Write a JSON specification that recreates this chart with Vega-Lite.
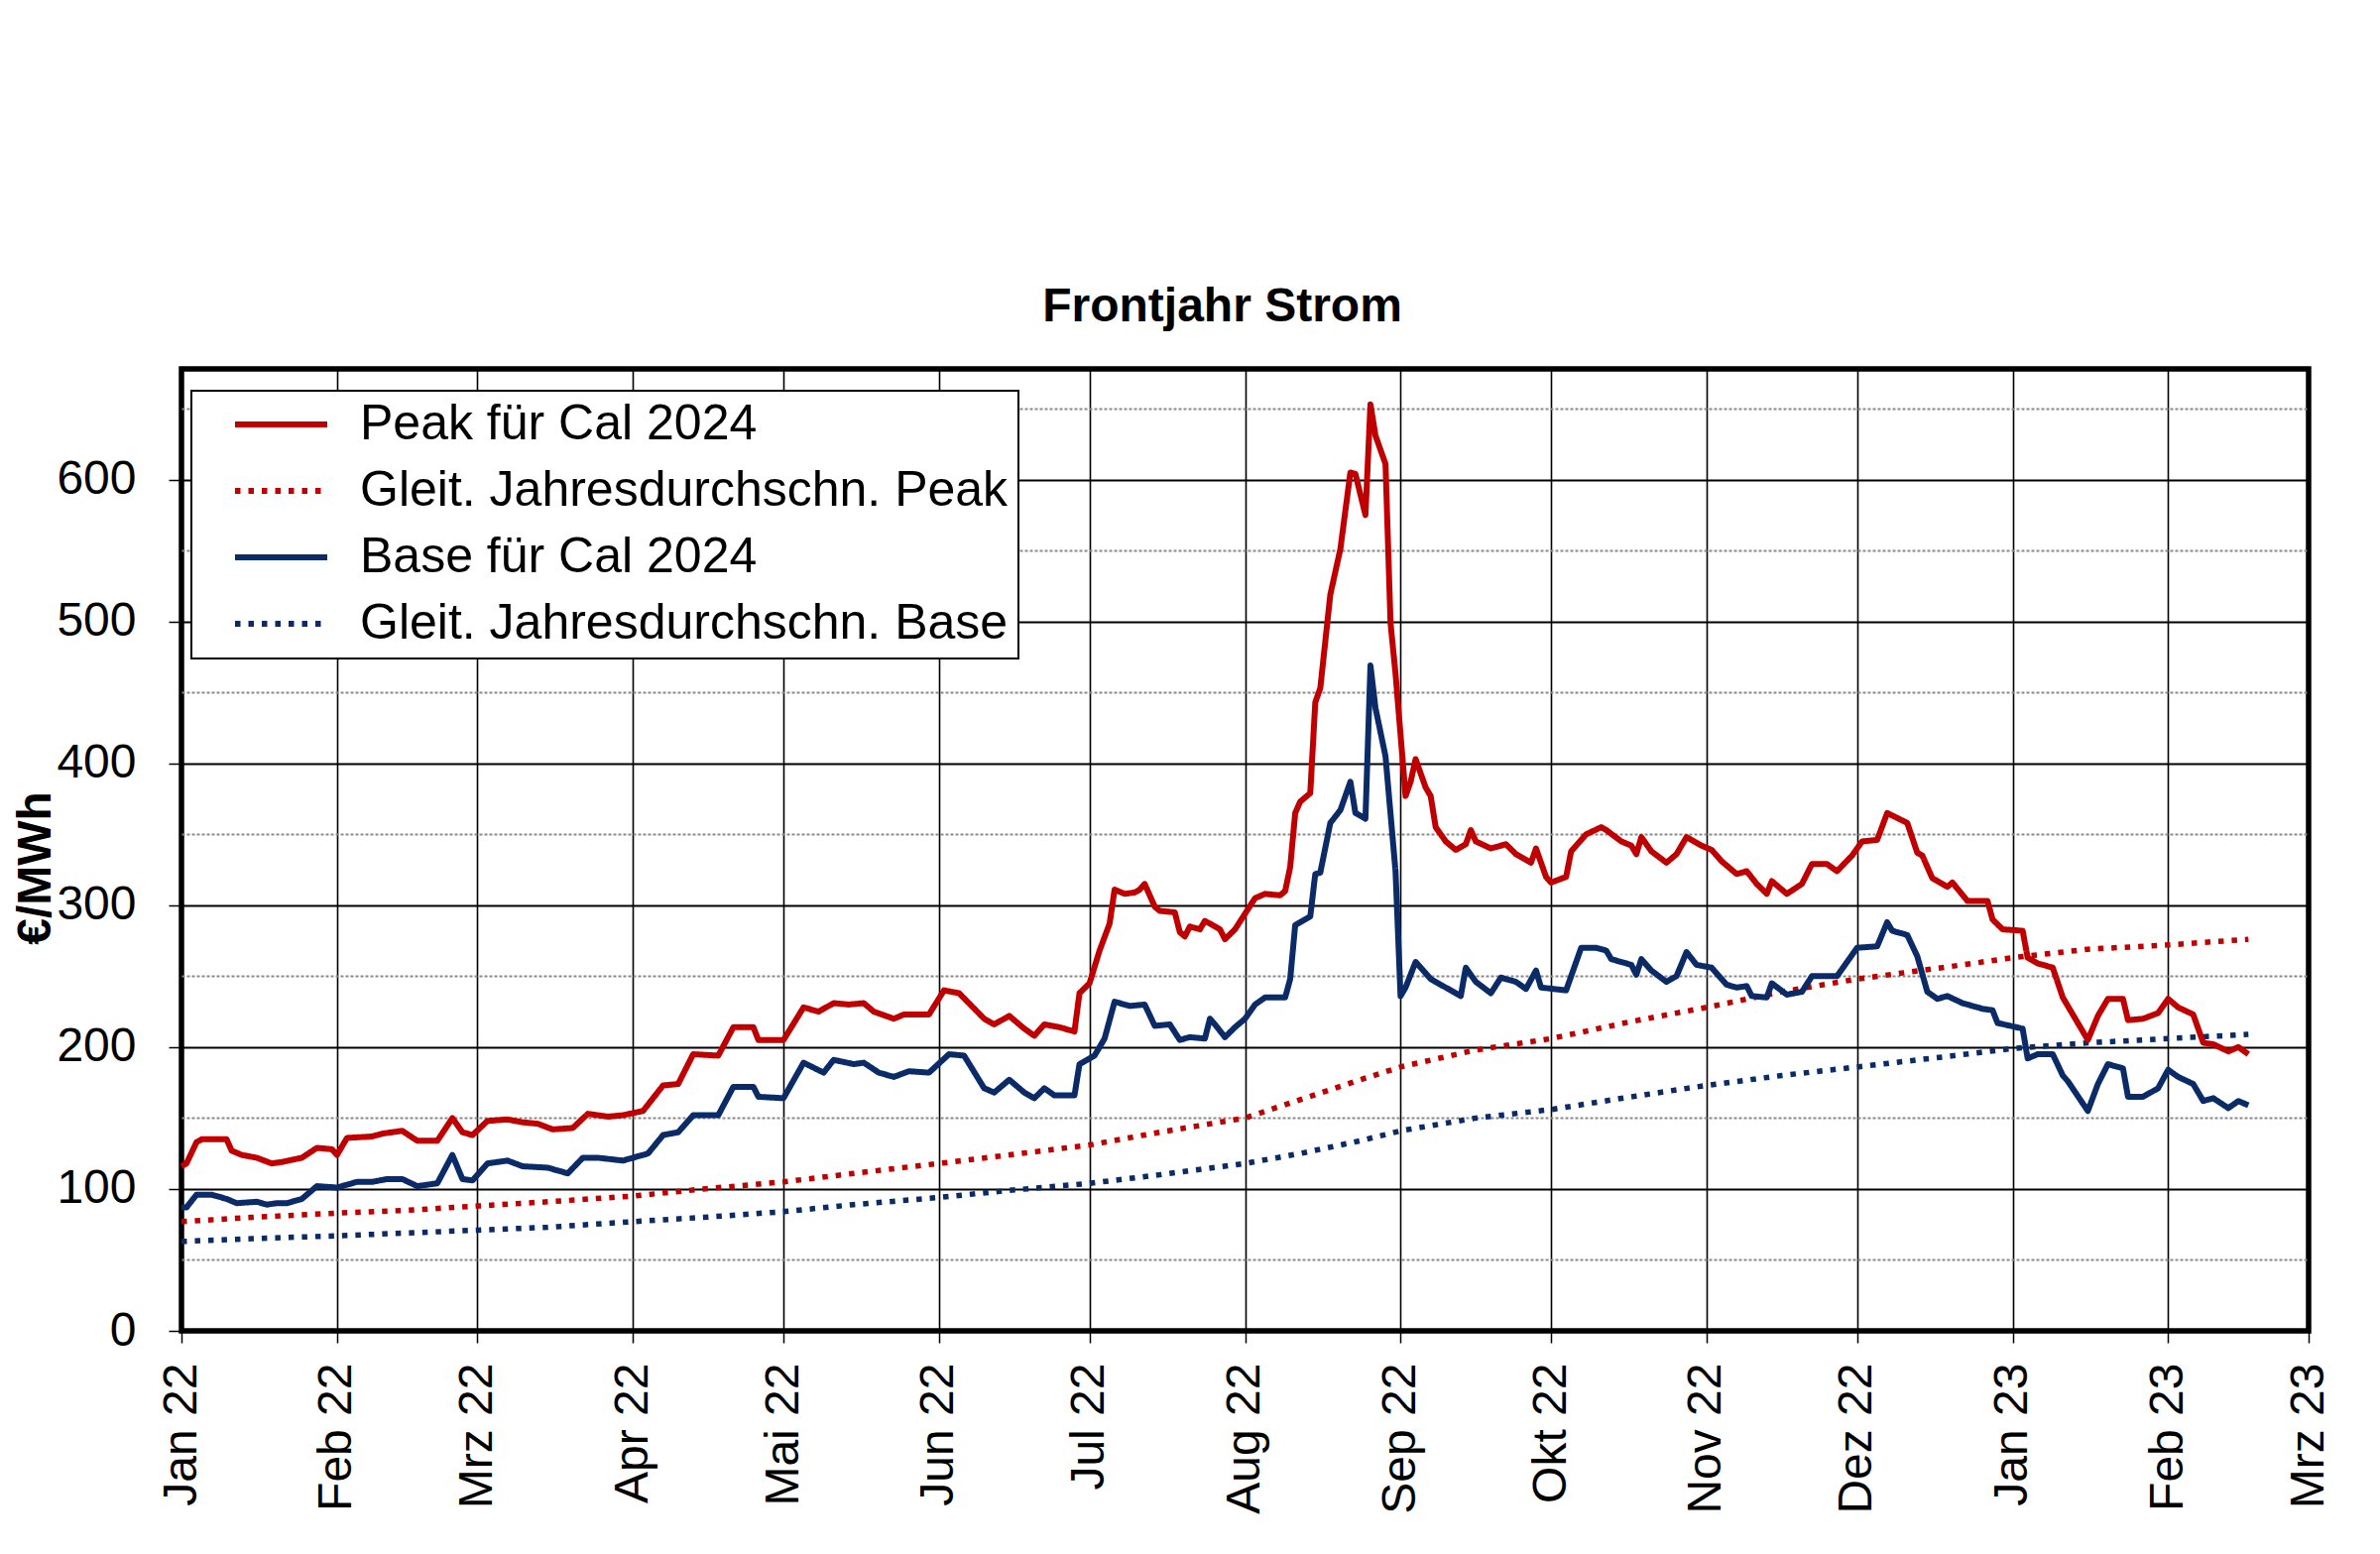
{
  "$schema": "https://vega.github.io/schema/vega-lite/v6.json",
  "autosize": {"type": "none"},
  "padding": {"left": 183, "top": 372, "right": 72, "bottom": 225},
  "width": 2145,
  "height": 970,
  "background": "white",
  "title": {"text": "Frontjahr Strom", "fontSize": 48, "font": "Liberation Sans", "fontWeight": "bold", "color": "black", "anchor": "middle", "dx": -23, "offset": 38},
  "config": {
    "view": {"stroke": "black", "strokeWidth": 5.5},
    "font": "Liberation Sans",
    "legend": {
      "orient": "none", "legendX": 10, "legendY": 22,
      "labelFontSize": 50, "labelColor": "black", "labelFont": "Liberation Sans", "labelLimit": 2000,
      "symbolType": "stroke", "symbolSize": 8649, "symbolStrokeWidth": 6,
      "clipHeight": 48, "rowPadding": 17, "padding": 10, "symbolOffset": 31, "labelOffset": 30,
      "fillColor": "white", "strokeColor": "black", "strokeWidth": 2
    }
  },
  "datasets": {
    "peak": [
      {"date":"2022-01-01","value":116},{"date":"2022-01-02","value":118},{"date":"2022-01-04","value":133},{"date":"2022-01-05","value":135},{"date":"2022-01-10","value":135},{"date":"2022-01-11","value":127},{"date":"2022-01-13","value":124},{"date":"2022-01-16","value":122},{"date":"2022-01-19","value":118},{"date":"2022-01-21","value":119},{"date":"2022-01-25","value":122},{"date":"2022-01-28","value":129},{"date":"2022-01-31","value":128},{"date":"2022-02-01","value":124},{"date":"2022-02-03","value":136},{"date":"2022-02-08","value":137},{"date":"2022-02-10","value":139},{"date":"2022-02-14","value":141},{"date":"2022-02-17","value":134},{"date":"2022-02-21","value":134},{"date":"2022-02-24","value":150},{"date":"2022-02-26","value":140},{"date":"2022-02-28","value":138},{"date":"2022-03-03","value":148},{"date":"2022-03-07","value":149},{"date":"2022-03-10","value":147},{"date":"2022-03-13","value":146},{"date":"2022-03-16","value":142},{"date":"2022-03-20","value":143},{"date":"2022-03-23","value":153},{"date":"2022-03-27","value":151},{"date":"2022-03-30","value":152},{"date":"2022-04-03","value":155},{"date":"2022-04-07","value":173},{"date":"2022-04-10","value":174},{"date":"2022-04-13","value":195},{"date":"2022-04-18","value":194},{"date":"2022-04-21","value":214},{"date":"2022-04-25","value":214},{"date":"2022-04-26","value":205},{"date":"2022-05-01","value":205},{"date":"2022-05-05","value":228},{"date":"2022-05-08","value":225},{"date":"2022-05-11","value":231},{"date":"2022-05-14","value":230},{"date":"2022-05-17","value":231},{"date":"2022-05-19","value":225},{"date":"2022-05-23","value":220},{"date":"2022-05-25","value":223},{"date":"2022-05-30","value":223},{"date":"2022-06-02","value":240},{"date":"2022-06-05","value":238},{"date":"2022-06-10","value":220},{"date":"2022-06-12","value":216},{"date":"2022-06-15","value":222},{"date":"2022-06-18","value":213},{"date":"2022-06-20","value":208},{"date":"2022-06-22","value":216},{"date":"2022-06-25","value":214},{"date":"2022-06-28","value":211},{"date":"2022-06-29","value":238},{"date":"2022-07-01","value":245},{"date":"2022-07-03","value":268},{"date":"2022-07-05","value":287},{"date":"2022-07-06","value":311},{"date":"2022-07-08","value":308},{"date":"2022-07-10","value":309},{"date":"2022-07-11","value":311},{"date":"2022-07-12","value":315},{"date":"2022-07-14","value":299},{"date":"2022-07-15","value":296},{"date":"2022-07-18","value":295},{"date":"2022-07-19","value":281},{"date":"2022-07-20","value":278},{"date":"2022-07-21","value":285},{"date":"2022-07-23","value":283},{"date":"2022-07-24","value":289},{"date":"2022-07-27","value":283},{"date":"2022-07-28","value":276},{"date":"2022-07-30","value":283},{"date":"2022-08-01","value":294},{"date":"2022-08-03","value":305},{"date":"2022-08-05","value":308},{"date":"2022-08-08","value":307},{"date":"2022-08-09","value":310},{"date":"2022-08-10","value":327},{"date":"2022-08-11","value":365},{"date":"2022-08-12","value":373},{"date":"2022-08-14","value":379},{"date":"2022-08-15","value":443},{"date":"2022-08-16","value":453},{"date":"2022-08-18","value":519},{"date":"2022-08-20","value":551},{"date":"2022-08-22","value":605},{"date":"2022-08-23","value":604},{"date":"2022-08-25","value":575},{"date":"2022-08-26","value":653},{"date":"2022-08-27","value":631},{"date":"2022-08-29","value":611},{"date":"2022-08-30","value":499},{"date":"2022-08-31","value":463},{"date":"2022-09-02","value":377},{"date":"2022-09-03","value":387},{"date":"2022-09-04","value":403},{"date":"2022-09-06","value":383},{"date":"2022-09-07","value":377},{"date":"2022-09-08","value":355},{"date":"2022-09-10","value":345},{"date":"2022-09-12","value":339},{"date":"2022-09-14","value":343},{"date":"2022-09-15","value":353},{"date":"2022-09-16","value":345},{"date":"2022-09-19","value":340},{"date":"2022-09-22","value":343},{"date":"2022-09-24","value":336},{"date":"2022-09-27","value":330},{"date":"2022-09-28","value":340},{"date":"2022-09-30","value":320},{"date":"2022-10-01","value":316},{"date":"2022-10-04","value":320},{"date":"2022-10-05","value":338},{"date":"2022-10-08","value":350},{"date":"2022-10-11","value":355},{"date":"2022-10-12","value":353},{"date":"2022-10-15","value":345},{"date":"2022-10-17","value":342},{"date":"2022-10-18","value":336},{"date":"2022-10-19","value":348},{"date":"2022-10-21","value":338},{"date":"2022-10-24","value":330},{"date":"2022-10-26","value":336},{"date":"2022-10-28","value":348},{"date":"2022-10-31","value":342},{"date":"2022-11-02","value":339},{"date":"2022-11-04","value":331},{"date":"2022-11-07","value":322},{"date":"2022-11-09","value":324},{"date":"2022-11-11","value":315},{"date":"2022-11-13","value":308},{"date":"2022-11-14","value":317},{"date":"2022-11-17","value":308},{"date":"2022-11-20","value":315},{"date":"2022-11-22","value":329},{"date":"2022-11-25","value":329},{"date":"2022-11-27","value":324},{"date":"2022-11-30","value":335},{"date":"2022-12-02","value":345},{"date":"2022-12-05","value":346},{"date":"2022-12-07","value":365},{"date":"2022-12-11","value":358},{"date":"2022-12-13","value":337},{"date":"2022-12-14","value":335},{"date":"2022-12-16","value":319},{"date":"2022-12-19","value":313},{"date":"2022-12-20","value":316},{"date":"2022-12-23","value":303},{"date":"2022-12-27","value":303},{"date":"2022-12-28","value":290},{"date":"2022-12-30","value":283},{"date":"2023-01-03","value":282},{"date":"2023-01-04","value":263},{"date":"2023-01-06","value":259},{"date":"2023-01-09","value":256},{"date":"2023-01-11","value":235},{"date":"2023-01-13","value":223},{"date":"2023-01-16","value":205},{"date":"2023-01-18","value":222},{"date":"2023-01-20","value":234},{"date":"2023-01-23","value":234},{"date":"2023-01-24","value":219},{"date":"2023-01-27","value":220},{"date":"2023-01-30","value":224},{"date":"2023-02-01","value":234},{"date":"2023-02-03","value":228},{"date":"2023-02-06","value":223},{"date":"2023-02-08","value":203},{"date":"2023-02-10","value":202},{"date":"2023-02-13","value":197},{"date":"2023-02-15","value":200},{"date":"2023-02-17","value":195}
    ],
    "base": [
      {"date":"2022-01-01","value":87},{"date":"2022-01-02","value":87},{"date":"2022-01-04","value":96},{"date":"2022-01-07","value":96},{"date":"2022-01-10","value":93},{"date":"2022-01-12","value":90},{"date":"2022-01-16","value":91},{"date":"2022-01-18","value":89},{"date":"2022-01-20","value":90},{"date":"2022-01-22","value":90},{"date":"2022-01-25","value":93},{"date":"2022-01-28","value":102},{"date":"2022-02-01","value":101},{"date":"2022-02-05","value":105},{"date":"2022-02-08","value":105},{"date":"2022-02-11","value":107},{"date":"2022-02-14","value":107},{"date":"2022-02-17","value":102},{"date":"2022-02-21","value":104},{"date":"2022-02-24","value":124},{"date":"2022-02-26","value":107},{"date":"2022-02-28","value":106},{"date":"2022-03-03","value":118},{"date":"2022-03-07","value":120},{"date":"2022-03-10","value":116},{"date":"2022-03-15","value":115},{"date":"2022-03-19","value":111},{"date":"2022-03-22","value":122},{"date":"2022-03-25","value":122},{"date":"2022-03-30","value":120},{"date":"2022-04-04","value":125},{"date":"2022-04-07","value":138},{"date":"2022-04-10","value":140},{"date":"2022-04-13","value":152},{"date":"2022-04-18","value":152},{"date":"2022-04-21","value":172},{"date":"2022-04-25","value":172},{"date":"2022-04-26","value":165},{"date":"2022-05-01","value":164},{"date":"2022-05-05","value":189},{"date":"2022-05-09","value":182},{"date":"2022-05-11","value":191},{"date":"2022-05-15","value":188},{"date":"2022-05-17","value":189},{"date":"2022-05-20","value":182},{"date":"2022-05-23","value":179},{"date":"2022-05-26","value":183},{"date":"2022-05-30","value":182},{"date":"2022-06-03","value":195},{"date":"2022-06-06","value":194},{"date":"2022-06-10","value":171},{"date":"2022-06-12","value":168},{"date":"2022-06-15","value":177},{"date":"2022-06-18","value":168},{"date":"2022-06-20","value":164},{"date":"2022-06-22","value":171},{"date":"2022-06-24","value":166},{"date":"2022-06-28","value":166},{"date":"2022-06-29","value":188},{"date":"2022-07-02","value":194},{"date":"2022-07-04","value":206},{"date":"2022-07-06","value":232},{"date":"2022-07-09","value":229},{"date":"2022-07-12","value":230},{"date":"2022-07-14","value":215},{"date":"2022-07-17","value":216},{"date":"2022-07-19","value":205},{"date":"2022-07-21","value":207},{"date":"2022-07-24","value":206},{"date":"2022-07-25","value":220},{"date":"2022-07-26","value":216},{"date":"2022-07-28","value":207},{"date":"2022-07-30","value":214},{"date":"2022-08-01","value":220},{"date":"2022-08-03","value":230},{"date":"2022-08-05","value":235},{"date":"2022-08-09","value":235},{"date":"2022-08-10","value":248},{"date":"2022-08-11","value":286},{"date":"2022-08-12","value":288},{"date":"2022-08-14","value":292},{"date":"2022-08-15","value":322},{"date":"2022-08-16","value":323},{"date":"2022-08-18","value":358},{"date":"2022-08-20","value":367},{"date":"2022-08-22","value":387},{"date":"2022-08-23","value":365},{"date":"2022-08-25","value":361},{"date":"2022-08-26","value":469},{"date":"2022-08-27","value":439},{"date":"2022-08-29","value":405},{"date":"2022-08-31","value":324},{"date":"2022-09-01","value":236},{"date":"2022-09-02","value":242},{"date":"2022-09-04","value":260},{"date":"2022-09-07","value":248},{"date":"2022-09-08","value":246},{"date":"2022-09-13","value":236},{"date":"2022-09-14","value":256},{"date":"2022-09-16","value":246},{"date":"2022-09-19","value":238},{"date":"2022-09-21","value":249},{"date":"2022-09-24","value":246},{"date":"2022-09-26","value":241},{"date":"2022-09-28","value":254},{"date":"2022-09-29","value":242},{"date":"2022-10-04","value":240},{"date":"2022-10-06","value":260},{"date":"2022-10-07","value":270},{"date":"2022-10-10","value":270},{"date":"2022-10-12","value":268},{"date":"2022-10-13","value":262},{"date":"2022-10-17","value":258},{"date":"2022-10-18","value":251},{"date":"2022-10-19","value":262},{"date":"2022-10-21","value":254},{"date":"2022-10-24","value":246},{"date":"2022-10-26","value":250},{"date":"2022-10-28","value":267},{"date":"2022-10-30","value":258},{"date":"2022-11-02","value":256},{"date":"2022-11-05","value":244},{"date":"2022-11-07","value":242},{"date":"2022-11-09","value":243},{"date":"2022-11-10","value":236},{"date":"2022-11-13","value":235},{"date":"2022-11-14","value":245},{"date":"2022-11-17","value":237},{"date":"2022-11-20","value":239},{"date":"2022-11-22","value":250},{"date":"2022-11-27","value":250},{"date":"2022-12-01","value":270},{"date":"2022-12-05","value":271},{"date":"2022-12-07","value":288},{"date":"2022-12-08","value":282},{"date":"2022-12-11","value":279},{"date":"2022-12-13","value":264},{"date":"2022-12-15","value":239},{"date":"2022-12-17","value":234},{"date":"2022-12-19","value":236},{"date":"2022-12-22","value":231},{"date":"2022-12-26","value":227},{"date":"2022-12-28","value":226},{"date":"2022-12-29","value":217},{"date":"2023-01-03","value":213},{"date":"2023-01-04","value":192},{"date":"2023-01-06","value":195},{"date":"2023-01-09","value":195},{"date":"2023-01-11","value":180},{"date":"2023-01-12","value":176},{"date":"2023-01-16","value":155},{"date":"2023-01-18","value":174},{"date":"2023-01-20","value":188},{"date":"2023-01-23","value":185},{"date":"2023-01-24","value":165},{"date":"2023-01-27","value":165},{"date":"2023-01-30","value":171},{"date":"2023-02-01","value":184},{"date":"2023-02-03","value":179},{"date":"2023-02-06","value":174},{"date":"2023-02-08","value":162},{"date":"2023-02-10","value":164},{"date":"2023-02-13","value":157},{"date":"2023-02-15","value":162},{"date":"2023-02-17","value":159}
    ],
    "avgPeak": [
      {"date":"2022-01-01","value":77},{"date":"2022-01-15","value":80},{"date":"2022-02-01","value":83},{"date":"2022-02-15","value":85},{"date":"2022-03-01","value":88},{"date":"2022-03-15","value":91},{"date":"2022-04-01","value":95},{"date":"2022-04-15","value":100},{"date":"2022-05-01","value":105},{"date":"2022-05-15","value":111},{"date":"2022-06-01","value":118},{"date":"2022-06-15","value":124},{"date":"2022-07-01","value":131},{"date":"2022-07-15","value":140},{"date":"2022-08-01","value":150},{"date":"2022-08-12","value":163},{"date":"2022-08-24","value":177},{"date":"2022-09-01","value":186},{"date":"2022-09-16","value":198},{"date":"2022-10-01","value":206},{"date":"2022-10-17","value":218},{"date":"2022-11-01","value":228},{"date":"2022-11-16","value":239},{"date":"2022-12-01","value":248},{"date":"2022-12-18","value":256},{"date":"2023-01-01","value":263},{"date":"2023-01-16","value":269},{"date":"2023-02-01","value":272},{"date":"2023-02-17","value":276}
    ],
    "avgBase": [
      {"date":"2022-01-01","value":63},{"date":"2022-01-15","value":65},{"date":"2022-02-01","value":67},{"date":"2022-02-15","value":69},{"date":"2022-03-01","value":71},{"date":"2022-03-15","value":73},{"date":"2022-04-01","value":77},{"date":"2022-04-15","value":80},{"date":"2022-05-01","value":84},{"date":"2022-05-15","value":89},{"date":"2022-06-01","value":94},{"date":"2022-06-15","value":99},{"date":"2022-07-01","value":104},{"date":"2022-07-15","value":110},{"date":"2022-08-01","value":118},{"date":"2022-08-12","value":125},{"date":"2022-08-24","value":134},{"date":"2022-09-01","value":141},{"date":"2022-09-16","value":150},{"date":"2022-10-01","value":156},{"date":"2022-10-17","value":165},{"date":"2022-11-01","value":173},{"date":"2022-11-16","value":180},{"date":"2022-12-01","value":186},{"date":"2022-12-18","value":193},{"date":"2023-01-01","value":199},{"date":"2023-01-16","value":203},{"date":"2023-02-01","value":206},{"date":"2023-02-17","value":209}
    ]
  },
  "encoding": {
    "x": {
      "field": "date", "type": "temporal", "title": null,
      "scale": {"type": "utc", "domain": [{"year": 2022, "month": 1, "date": 1, "utc": true}, {"year": 2023, "month": 3, "date": 1, "utc": true}]},
      "axis": {
        "tickCount": "month",
        "labelExpr": "['Jan','Feb','Mrz','Apr','Mai','Jun','Jul','Aug','Sep','Okt','Nov','Dez'][utcmonth(datum.value)] + ' ' + utcFormat(datum.value, '%y')",
        "labelAngle": -90, "labelAlign": "right", "labelBaseline": "middle",
        "labelFontSize": 48, "labelFont": "Liberation Sans", "labelColor": "black",
        "labelPadding": 20, "tickSize": 12, "tickColor": "black", "tickWidth": 1.5,
        "labelOverlap": false, "labelFlush": false, "labelBound": false,
        "grid": true, "gridColor": "black", "gridWidth": 1.6, "domain": false
      }
    },
    "y": {
      "field": "value", "type": "quantitative", "title": "€/MWh",
      "scale": {"domain": [0, 678], "nice": false},
      "axis": {
        "values": [0, 50, 100, 150, 200, 250, 300, 350, 400, 450, 500, 550, 600, 650],
        "labelExpr": "datum.value % 100 === 0 ? datum.label : ''",
        "labelFontSize": 48, "labelFont": "Liberation Sans", "labelColor": "black",
        "labelPadding": 33, "tickSize": 13, "tickColor": "black", "tickWidth": 1.5,
        "tickOpacity": {"condition": {"test": "datum.value % 100 === 0", "value": 1}, "value": 0},
        "grid": true,
        "gridColor": {"condition": {"test": "datum.value % 100 === 0", "value": "black"}, "value": "#8a8a8a"},
        "gridDash": {"condition": {"test": "datum.value % 100 === 0", "value": []}, "value": [3, 2]},
        "gridWidth": 1.8,
        "domain": false,
        "titleFontSize": 48, "titleFont": "Liberation Sans", "titleFontWeight": "bold", "titleColor": "black", "titlePadding": -4, "titleY": 503
      }
    }
  },
  "layer": [
    {
      "data": {"name": "avgPeak"},
      "mark": {"type": "line", "strokeWidth": 5.5},
      "encoding": {
        "color": {"datum": "Gleit. Jahresdurchschn. Peak", "title": null,
          "scale": {"domain": ["Peak für Cal 2024", "Gleit. Jahresdurchschn. Peak", "Base für Cal 2024", "Gleit. Jahresdurchschn. Base"], "range": ["#c00000", "#c00000", "#0a2a68", "#0a2a68"]}},
        "strokeDash": {"datum": "Gleit. Jahresdurchschn. Peak", "title": null,
          "scale": {"domain": ["Peak für Cal 2024", "Gleit. Jahresdurchschn. Peak", "Base für Cal 2024", "Gleit. Jahresdurchschn. Base"], "range": [[1, 0], [5.5, 8], [1, 0], [5.5, 8]]}}
      }
    },
    {
      "data": {"name": "avgBase"},
      "mark": {"type": "line", "strokeWidth": 5.5},
      "encoding": {
        "color": {"datum": "Gleit. Jahresdurchschn. Base", "title": null},
        "strokeDash": {"datum": "Gleit. Jahresdurchschn. Base", "title": null}
      }
    },
    {
      "data": {"name": "base"},
      "mark": {"type": "line", "strokeWidth": 6, "strokeJoin": "round"},
      "encoding": {
        "color": {"datum": "Base für Cal 2024", "title": null},
        "strokeDash": {"datum": "Base für Cal 2024", "title": null}
      }
    },
    {
      "data": {"name": "peak"},
      "mark": {"type": "line", "strokeWidth": 6, "strokeJoin": "round"},
      "encoding": {
        "color": {"datum": "Peak für Cal 2024", "title": null},
        "strokeDash": {"datum": "Peak für Cal 2024", "title": null}
      }
    }
  ]
}
